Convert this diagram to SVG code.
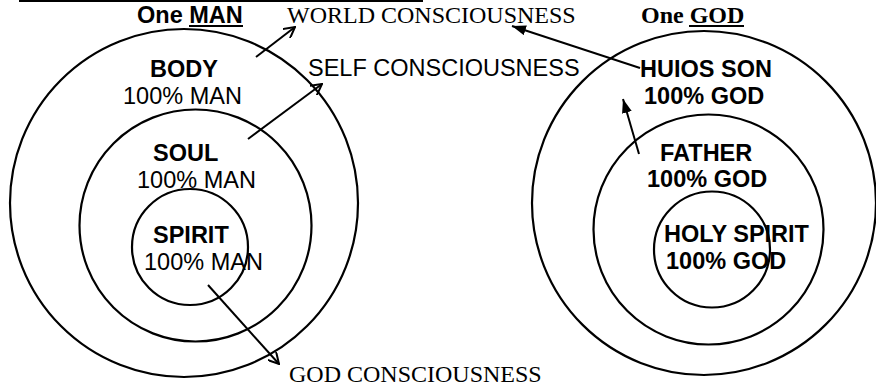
<svg xmlns="http://www.w3.org/2000/svg" width="876" height="390" viewBox="0 0 876 390">
<style>
.ring{fill:none;stroke:#000;stroke-width:2.2}
.sans{font-family:"Liberation Sans",Arial,sans-serif;font-size:23.5px;fill:#000}
.b{font-weight:bold}
.serif{font-family:"Liberation Serif","Times New Roman",serif;font-size:24px;fill:#000}
.conn{stroke:#000;stroke-width:2;fill:none}
</style>
<defs>
<marker id="open" viewBox="0 0 12 12" refX="11" refY="6" markerWidth="12" markerHeight="12" markerUnits="userSpaceOnUse" orient="auto">
<path d="M0,0 L11,6 L0,12" fill="none" stroke="#000" stroke-width="2"/>
</marker>
<marker id="solid" viewBox="0 0 14 10" refX="14" refY="5" markerWidth="14" markerHeight="10" markerUnits="userSpaceOnUse" orient="auto">
<path d="M0,0 L14,5 L0,10 z" fill="#000"/>
</marker>
</defs>
<rect width="876" height="390" fill="#fff"/>
<line x1="19" y1="1" x2="423" y2="1" stroke="#000" stroke-width="2"/>
<g id="title-man">
<text class="sans b" x="137" y="23">One MAN</text>
<line x1="189" y1="26" x2="243" y2="26" stroke="#000" stroke-width="2"/>
</g>
<g id="title-god">
<text class="serif b" x="641" y="23">One GOD</text>
<line x1="689" y1="26" x2="744" y2="26" stroke="#000" stroke-width="2"/>
</g>
<g id="body">
<circle class="ring" cx="184" cy="203" r="174"/>
<text class="sans b" x="150" y="77">BODY</text>
<text class="sans" x="123" y="104">100% MAN</text>
</g>
<g id="soul">
<circle class="ring" cx="195.5" cy="225.5" r="116"/>
<text class="sans b" x="153" y="161">SOUL</text>
<text class="sans" x="137" y="188">100% MAN</text>
</g>
<g id="spirit">
<circle class="ring" cx="190" cy="247" r="58"/>
<text class="sans b" x="153" y="243">SPIRIT</text>
<text class="sans" x="144" y="270">100% MAN</text>
</g>
<g id="son">
<circle class="ring" cx="704" cy="203" r="172"/>
<text class="sans b" x="640" y="77">HUIOS SON</text>
<text class="sans b" x="644" y="104">100% GOD</text>
</g>
<g id="father">
<circle class="ring" cx="708.5" cy="229.5" r="115"/>
<text class="sans b" x="660" y="161">FATHER</text>
<text class="sans b" x="647" y="187">100% GOD</text>
</g>
<g id="holy-spirit">
<circle class="ring" cx="712" cy="249.5" r="58"/>
<text class="sans b" x="664" y="242">HOLY SPIRIT</text>
<text class="sans b" x="666" y="269">100% GOD</text>
</g>
<g id="world-consciousness">
<text class="serif" x="287" y="23">WORLD CONSCIOUSNESS</text>
</g>
<g id="self-consciousness">
<text class="sans" x="308" y="76">SELF CONSCIOUSNESS</text>
</g>
<g id="god-consciousness">
<text class="serif" x="289" y="382">GOD CONSCIOUSNESS</text>
</g>
<g id="connectors">
<line class="conn" x1="256" y1="57" x2="295" y2="27" marker-end="url(#open)"/>
<line class="conn" x1="248" y1="139" x2="322" y2="84" marker-end="url(#open)"/>
<line class="conn" x1="208" y1="285" x2="279" y2="364" marker-end="url(#open)"/>
<line class="conn" x1="640" y1="68" x2="512" y2="26" marker-end="url(#solid)"/>
<line class="conn" x1="639" y1="154" x2="623" y2="99" marker-end="url(#solid)"/>
</g>
</svg>
